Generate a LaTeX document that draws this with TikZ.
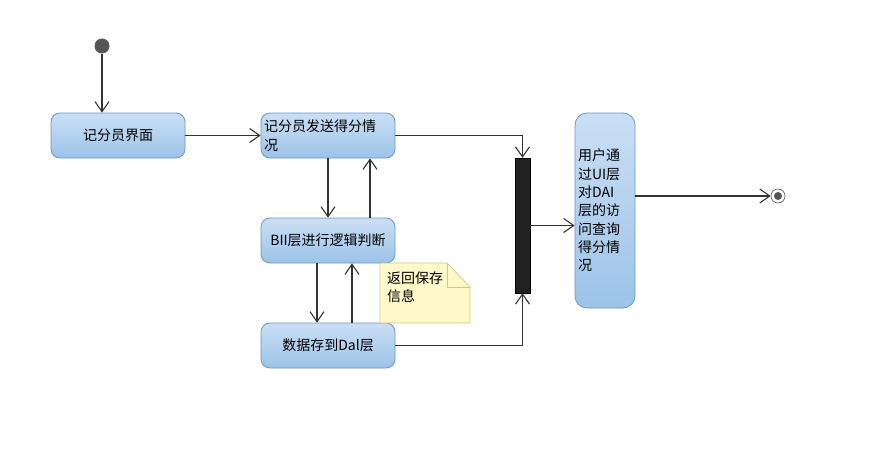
\documentclass[tikz,border=0pt]{standalone}
\usepackage{fontspec}
\newfontfamily\cjk{Noto Sans CJK SC}
\usetikzlibrary{arrows.meta}
\definecolor{boxtop}{HTML}{CADFF5}
\definecolor{boxbot}{HTML}{9CC3E7}
\definecolor{boxline}{HTML}{6A97C6}
\definecolor{linec}{HTML}{333333}
\definecolor{notefill}{HTML}{FFF9C9}
\definecolor{noteline}{HTML}{D6C67A}
\definecolor{dotc}{HTML}{555555}
\begin{document}
\begin{tikzpicture}[x=1pt,y=-1pt,
  font=\cjk\fontsize{14}{18.3}\selectfont,
  act/.style={draw=boxline, rounded corners=9pt, top color=boxtop, bottom color=boxbot,
    inner sep=3pt, line width=0.8pt, text=black},
  flow/.style={draw=linec, line width=1.1pt, -{Straight Barb[length=10pt,width=14pt]}}]
\useasboundingbox (0,0) rectangle (874,460);
\fill[white] (0,0) rectangle (874,460);
% start
\node[circle, fill=dotc, minimum size=15pt, inner sep=0pt] (start) at (102,46) {};
% activities
\node[act, minimum width=134pt, minimum height=45pt] (a) at (118,135.5) {记分员界面\hspace{10pt}};
\node[act, text width=128pt, align=left, minimum height=45pt] (b) at (328,135.5) {记分员发送得分情\\况};
\node[act, minimum width=134pt, minimum height=45pt] (c) at (328,240.5) {BII层进行逻辑判断};
\node[act, minimum width=134pt, minimum height=45pt] (d) at (328,345.5) {数据存到Dal层};
\node[act, text width=54pt, align=left, minimum height=195pt, rounded corners=12pt] (e) at (605,210.5)
  {用户通\\过UI层\\对DAI\\层的访\\问查询\\得分情\\况};
% join bar
\node[draw=black, fill=black!87, minimum width=15pt, minimum height=135pt, inner sep=0pt] (bar) at (522.5,225.5) {};
% end
\node[circle, draw=dotc, fill=white, minimum size=14pt, inner sep=0pt, line width=0.6pt] (end) at (778,196) {};
\fill[dotc] (end.center) circle (4pt);
% note
\path[draw=noteline, fill=notefill, line width=0.7pt] (380,263) -- (447,263) -- (470,287) -- (470,323) -- (380,323) -- cycle;
\draw[noteline, line width=0.7pt] (447,263) -- (447,287) -- (470,287);
\node[anchor=west, align=left, inner sep=0pt] (note) at (387,287.5) {返回保存\\信息};
% connectors
\draw[flow] (start) -- (start |- a.north);
\draw[flow] (a) -- (b);
\draw[flow] (b.east) -| (bar.north);
\draw[flow] (b.south) -- (c.north);
\draw[flow] ([xshift=42pt]c.north) -- ([xshift=42pt]b.south);
\draw[flow] ([xshift=-11pt]c.south) -- ([xshift=-11pt]d.north);
\draw[flow] ([xshift=24pt]d.north) -- ([xshift=24pt]c.south);
\draw[flow] (d.east) -| (bar.south);
\draw[flow] (bar.east) -- (bar.east -| e.west);
\draw[flow] (e.east |- end) -- (end.west);
\end{tikzpicture}
\end{document}
